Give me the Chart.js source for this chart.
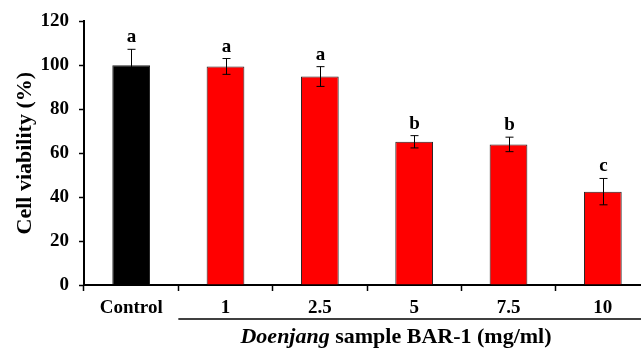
<!DOCTYPE html>
<html>
<head>
<meta charset="utf-8">
<script src="https://cdn.jsdelivr.net/npm/chart.js@4"></script>
<style>
    html, body { margin: 0; padding: 0; background: #fff; overflow: hidden; }
    #wrap { width: 641px; height: 350px; overflow: hidden; }
</style>
</head>
<body>
<div id="wrap"><canvas id="myChart" width="650" height="350"></canvas></div>
<script>
    const categories = ['Control', '1', '2.5', '5', '7.5', '10'];
    const viability = [100, 99.5, 94.9, 65.2, 64.0, 42.5];
    const errors = [7.3, 3.6, 4.5, 2.8, 3.3, 6.0];
    const letters = ['a', 'a', 'a', 'b', 'b', 'c'];
    const barColors = ['#000000', '#ff0000', '#ff0000', '#ff0000', '#ff0000', '#ff0000'];

    const serif = "'Liberation Serif', 'Times New Roman', serif";

    // error bars, significance letters and the grouped x title
    const extras = {
        id: 'extras',
        afterDatasetsDraw(chart) {
            const ctx = chart.ctx;
            const x = chart.scales.x;
            const y = chart.scales.y;
            ctx.save();
            ctx.strokeStyle = '#000';
            ctx.fillStyle = '#000';
            ctx.lineWidth = 1;
            viability.forEach((v, i) => {
                const px = Math.round(x.getPixelForValue(i)) + 0.5;
                const top = y.getPixelForValue(v + errors[i]);
                const bot = y.getPixelForValue(v - errors[i]);
                ctx.beginPath();
                ctx.moveTo(px, top);
                ctx.lineTo(px, bot);
                ctx.moveTo(px - 4, top);
                ctx.lineTo(px + 4, top);
                ctx.moveTo(px - 4, bot);
                ctx.lineTo(px + 4, bot);
                ctx.stroke();

                ctx.font = 'bold 19px ' + serif;
                ctx.textAlign = 'center';
                ctx.textBaseline = 'alphabetic';
                ctx.fillText(letters[i], px, top - 7);
            });

            // line under the sample concentrations
            const left = x.getPixelForValue(0.5);
            ctx.lineWidth = 1.5;
            ctx.beginPath();
            ctx.moveTo(left, 319);
            ctx.lineTo(chart.width, 319);
            ctx.stroke();

            // x title: italic "Doenjang" + regular rest
            const part1 = 'Doenjang';
            const part2 = ' sample BAR-1 (mg/ml)';
            ctx.font = 'italic bold 22px ' + serif;
            const w1 = ctx.measureText(part1).width;
            ctx.font = 'bold 22px ' + serif;
            const w2 = ctx.measureText(part2).width;
            const start = 396 - (w1 + w2) / 2;
            ctx.textAlign = 'left';
            ctx.font = 'italic bold 22px ' + serif;
            ctx.fillText(part1, start, 343);
            ctx.font = 'bold 22px ' + serif;
            ctx.fillText(part2, start + w1, 343);
            ctx.restore();
        }
    };

    const ctx = document.getElementById('myChart').getContext('2d');
    new Chart(ctx, {
        type: 'bar',
        data: {
            labels: categories,
            datasets: [{
                data: viability,
                backgroundColor: barColors,
                borderColor: '#222',
                borderWidth: 1,
                barPercentage: 0.4,
                categoryPercentage: 1.0
            }]
        },
        options: {
            responsive: false,
            animation: false,
            layout: { padding: { top: 10, right: 0, bottom: 0, left: 0 } },
            plugins: {
                legend: { display: false },
                tooltip: { enabled: false }
            },
            scales: {
                x: {
                    grid: {
                        drawOnChartArea: false,
                        drawTicks: true,
                        tickLength: 6,
                        tickColor: '#000',
                        tickWidth: 1.5
                    },
                    border: { color: '#000', width: 2 },
                    ticks: {
                        color: '#000',
                        padding: 6,
                        font: { family: serif, size: 19, weight: 'bold' }
                    },
                    afterFit(scale) { scale.height = 65; }
                },
                y: {
                    min: 0,
                    max: 120,
                    ticks: {
                        stepSize: 20,
                        color: '#000',
                        padding: 10,
                        font: { family: serif, size: 19, weight: 'bold' }
                    },
                    grid: {
                        drawOnChartArea: false,
                        drawTicks: true,
                        tickLength: 5,
                        tickColor: '#000',
                        tickWidth: 1.5
                    },
                    border: { color: '#000', width: 2 },
                    title: {
                        display: true,
                        text: 'Cell viability (%)',
                        color: '#000',
                        padding: { top: 12, bottom: 0 },
                        font: { family: serif, size: 22, weight: 'bold' }
                    },
                    afterFit(scale) { scale.width = 84; }
                }
            }
        },
        plugins: [extras]
    });
</script>
</body>
</html>
